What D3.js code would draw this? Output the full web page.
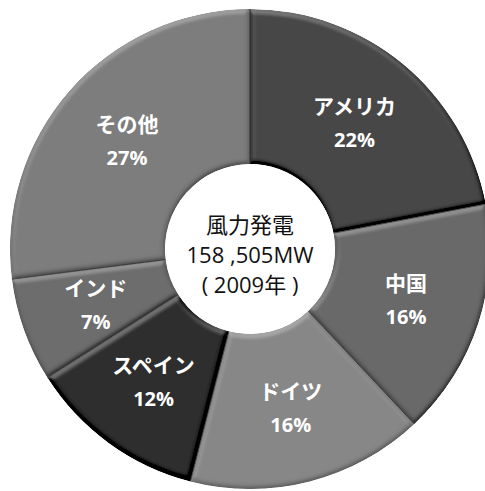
<!DOCTYPE html>
<html>
<head>
<meta charset="utf-8">
<script src="https://cdn.jsdelivr.net/npm/d3@7"></script>
<style>
  html, body { margin: 0; padding: 0; background: #fff; }
  svg { display: block; }
</style>
</head>
<body>
<svg id="chart" width="485" height="491"></svg>
<script>
// Wind power capacity share by country, 2009
const countries = ["アメリカ", "中国", "ドイツ", "スペイン", "インド", "その他"];
const shares = [22, 16, 16, 12, 7, 27];
const sliceColors = ["#464646", "#696969", "#878787", "#2f2f2f", "#6d6d6d", "#7c7c7c"];
const centerLines = ["風力発電", "158 ,505MW", "( 2009年 )"];

const width = 485, height = 491;
const cx = 250, cy = 249;
const outerR = 240, innerR = 85, labelR = 164;

const svg = d3.select("#chart");

// Soft embossed edge on every slice, lit from above; shading below the
// flat level is compressed so the lower edges only darken slightly
const flat = Math.sin(Math.PI / 3);
const shade = d3.range(0, 1.0001, 0.02).map(x => x >= flat ? x : flat - (flat - x) * 0.25);
const defs = svg.append("defs");
const f = defs.append("filter").attr("id", "bevel")
  .attr("x", "-5%").attr("y", "-5%").attr("width", "110%").attr("height", "110%");
f.append("feGaussianBlur").attr("in", "SourceAlpha").attr("stdDeviation", 2.5).attr("result", "blur");
f.append("feDiffuseLighting").attr("in", "blur").attr("surfaceScale", 2.5)
  .attr("diffuseConstant", 1).attr("lighting-color", "#fff").attr("result", "light")
  .append("feDistantLight").attr("azimuth", 250).attr("elevation", 60);
const ct = f.append("feComponentTransfer").attr("in", "light").attr("result", "lightT");
["feFuncR", "feFuncG", "feFuncB"].forEach(fn =>
  ct.append(fn).attr("type", "table").attr("tableValues", shade.map(v => v.toFixed(4)).join(" ")));
f.append("feComposite").attr("in", "SourceGraphic").attr("in2", "lightT")
  .attr("operator", "arithmetic").attr("k1", 0).attr("k2", 1).attr("k3", 1).attr("k4", -flat)
  .attr("result", "lit");
f.append("feComposite").attr("in", "lit").attr("in2", "SourceAlpha").attr("operator", "in");

const data = countries.map((name, i) => ({ name, value: shares[i], color: sliceColors[i] }));

const pie = d3.pie().value(d => d.value).sort(null);
const arc = d3.arc().innerRadius(innerR).outerRadius(outerR);
const labelArc = d3.arc().innerRadius(labelR).outerRadius(labelR);

const g = svg.append("g").attr("transform", `translate(${cx},${cy})`);
const arcs = pie(data);

g.selectAll("path.slice")
  .data(arcs)
  .join("path")
  .attr("class", "slice")
  .attr("d", arc)
  .attr("fill", d => d.data.color)
  .attr("filter", "url(#bevel)");

// Thin dark seams between neighbouring slices
g.selectAll("path.seam")
  .data(arcs)
  .join("path")
  .attr("class", "seam")
  .attr("d", d => {
    const a = d.startAngle;
    return `M${innerR * Math.sin(a)},${-innerR * Math.cos(a)}L${outerR * Math.sin(a)},${-outerR * Math.cos(a)}`;
  })
  .attr("stroke", "#262626")
  .attr("stroke-width", 1)
  .attr("stroke-opacity", 0.8);

// Country name and share inside each slice
const labels = g.selectAll("g.label")
  .data(arcs)
  .join("g")
  .attr("class", "label")
  .attr("transform", d => `translate(${labelArc.centroid(d)})`);

labels.append("text")
  .attr("y", -16)
  .attr("dy", "0.35em")
  .attr("text-anchor", "middle")
  .attr("fill", "#fff")
  .attr("font-family", "'Noto Sans CJK JP', 'Noto Sans', sans-serif")
  .attr("font-weight", "bold")
  .attr("font-size", 21)
  .text(d => d.data.name);

labels.append("text")
  .attr("y", 17)
  .attr("dy", "0.35em")
  .attr("text-anchor", "middle")
  .attr("fill", "#fff")
  .attr("font-family", "'Open Sans', 'Noto Sans', sans-serif")
  .attr("font-weight", "bold")
  .attr("font-size", 20)
  .text(d => d.data.value + "%");

// Total in the hole
g.append("g").selectAll("text")
  .data(centerLines)
  .join("text")
  .attr("y", (d, i) => (i - 1) * 30 + 6)
  .attr("dy", "0.35em")
  .attr("text-anchor", "middle")
  .attr("fill", "#111")
  .attr("font-family", "'Open Sans', 'Noto Sans CJK JP', sans-serif")
  .attr("font-size", 22)
  .text(d => d);
</script>
</body>
</html>
